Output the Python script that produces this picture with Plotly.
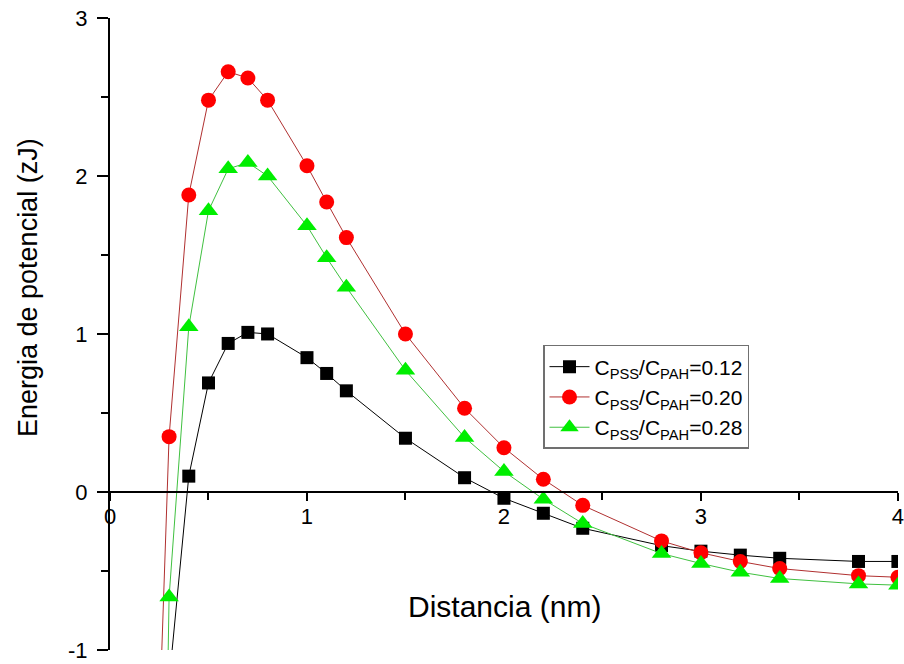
import plotly.graph_objects as go

# ---- data ----
distancia = [0.2, 0.3, 0.4, 0.5, 0.6, 0.7, 0.8, 1.0, 1.1, 1.2, 1.5, 1.8,
             2.0, 2.2, 2.4, 2.8, 3.0, 3.2, 3.4, 3.8, 4.0]
e_012 = [None, -1.2, 0.10, 0.69, 0.94, 1.01, 1.00, 0.85, 0.75, 0.64, 0.34, 0.09,
         -0.04, -0.135, -0.23, -0.34, -0.375, -0.40, -0.42, -0.44, -0.44]
e_020 = [-3.3, 0.35, 1.88, 2.48, 2.66, 2.62, 2.48, 2.065, 1.835, 1.61, 1.00, 0.53,
         0.28, 0.08, -0.085, -0.31, -0.385, -0.44, -0.485, -0.53, -0.54]
e_028 = [-8.0, -0.665, 1.045, 1.78, 2.045, 2.085, 2.00, 1.685, 1.483, 1.296, 0.77, 0.345,
         0.13, -0.046, -0.20, -0.39, -0.453, -0.508, -0.548, -0.582, -0.59]

series_names = ["C<sub>PSS</sub>/C<sub>PAH</sub>=0.12",
                "C<sub>PSS</sub>/C<sub>PAH</sub>=0.20",
                "C<sub>PSS</sub>/C<sub>PAH</sub>=0.28"]
x_ticks = [0, 1, 2, 3, 4]
y_ticks = [-1, 0, 1, 2, 3]
x_title = "Distancia (nm)"
y_title = "Energia de potencial (zJ)"

FONT = "Liberation Sans, Arial, sans-serif"

fig = go.Figure()
styles = [
    dict(line=dict(color="#000000", width=1),
         marker=dict(symbol="square", size=13, color="#000000")),
    dict(line=dict(color="#b03030", width=1),
         marker=dict(symbol="circle", size=15, color="#ff0000")),
    dict(line=dict(color="#40c040", width=1),
         marker=dict(symbol="triangle-up", size=17, color="#00ee00")),
]
for name, ys, st in zip(series_names, [e_012, e_020, e_028], styles):
    fig.add_trace(go.Scatter(x=distancia, y=ys, mode="lines+markers", name=name,
                             line=st["line"], marker=st["marker"],
                             cliponaxis=True, connectgaps=False))

axis_common = dict(showgrid=False, zeroline=False, showline=True, linewidth=2,
                   linecolor="black", ticks="outside", tickwidth=2, tickcolor="black",
                   ticklabeloverflow="allow", automargin=False,
                   tickfont=dict(family=FONT, size=22, color="black"))

fig.update_layout(
    width=904, height=664,
    margin=dict(l=110, r=6, t=18, b=14, autoexpand=False),
    paper_bgcolor="white", plot_bgcolor="white",
    font=dict(family=FONT, color="black"),
    xaxis=dict(range=[0, 4.0005], anchor="free", position=0.25,
               tickmode="array",
               tickvals=x_ticks, ticktext=[str(v) for v in x_ticks],
               ticklen=8, ticklabelstandoff=-3,
               minor=dict(dtick=0.5, tick0=0, ticklen=7, tickwidth=2,
                          tickcolor="black", ticks="outside"),
               **axis_common),
    yaxis=dict(range=[-1.0005, 3], domain=[0, 1],
               tickmode="array",
               tickvals=y_ticks, ticktext=[str(v) for v in y_ticks],
               ticklen=11, ticklabelstandoff=5,
               minor=dict(dtick=0.5, tick0=0, ticklen=7, tickwidth=2,
                          tickcolor="black", ticks="outside"),
               **axis_common),
    legend=dict(x=0.5495, y=0.4826, xanchor="left", yanchor="top",
                bgcolor="white", bordercolor="#707070", borderwidth=1.5,
                font=dict(family=FONT, size=21, color="black"),
                tracegroupgap=0, itemwidth=40),
    showlegend=True,
    annotations=[
        dict(text=x_title, xref="paper", yref="paper", x=0.5, y=0.0696,
             xanchor="center", yanchor="middle", showarrow=False,
             font=dict(family=FONT, size=30, color="black")),
        dict(text=y_title, xref="paper", yref="paper", x=-0.104, y=0.5728,
             xanchor="center", yanchor="middle", showarrow=False, textangle=-90,
             font=dict(family=FONT, size=27, color="black")),
    ],
)

fig.write_html("out.html")
